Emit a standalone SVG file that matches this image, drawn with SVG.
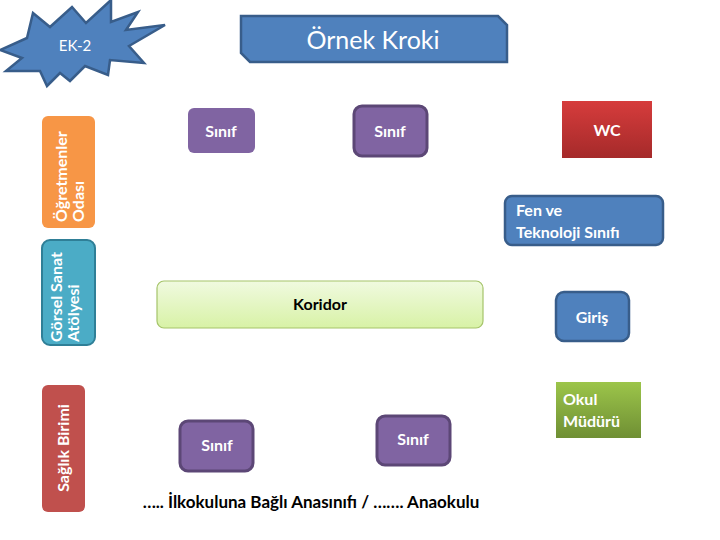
<svg xmlns="http://www.w3.org/2000/svg" width="720" height="540" viewBox="0 0 720 540">
<defs>
<linearGradient id="gRed" x1="0" y1="0" x2="0" y2="1"><stop offset="0" stop-color="#d63c3c"/><stop offset="1" stop-color="#a52a2a"/></linearGradient>
<linearGradient id="gGreen" x1="0" y1="0" x2="0" y2="1"><stop offset="0" stop-color="#9cc54a"/><stop offset="1" stop-color="#6f8f34"/></linearGradient>
<linearGradient id="gLight" x1="0" y1="0" x2="0" y2="1"><stop offset="0" stop-color="#f0fae0"/><stop offset="1" stop-color="#d8f2a6"/></linearGradient>
<style>
.t{font-family:Lato,"Open Sans","Liberation Sans",sans-serif;}
.w{fill:#ffffff;font-weight:bold;font-size:16px;}
.blue{fill:#4f81bd;stroke:#385d8a;stroke-width:2.5;}
.purple{fill:#8064a2;}
.purpleS{fill:#8064a2;stroke:#5c4776;stroke-width:3;}
</style>
</defs>
<rect width="720" height="540" fill="#ffffff"/>
<g id="connectors"></g>
<g id="ek2">
<polygon class="blue" stroke-width="2" points="0,50 27,38 33,13 50,27 72,7 86,23 111,0 111,22 138,12 126,30 165,25 129,46 144,63 110,60 108,75 85,66 70,81 60,73 47,86 40,71 6,71 22,58"/>
<text class="t" x="75" y="51" font-size="15" fill="#ffffff" text-anchor="middle">EK-2</text>
</g>
<g id="baslik">
<polygon class="blue" points="241,16 498,16 507,25 507,62 250,62 241,53"/>
<text class="t" x="373" y="49" font-size="25" fill="#ffffff" text-anchor="middle">Örnek Kroki</text>
</g>
<g id="ogretmenler">
<rect x="42" y="116" width="53" height="112" rx="6" fill="#f79646"/>
<text class="t w" font-size="15" transform="translate(67,222) rotate(-90)">Öğretmenler</text>
<text class="t w" font-size="15" transform="translate(84,222) rotate(-90)">Odası</text>
</g>
<g id="gorsel">
<rect x="42" y="240" width="53" height="105" rx="8" fill="#4bacc6" stroke="#2f7f97" stroke-width="2"/>
<text class="t w" font-size="15" transform="translate(62,342) rotate(-90)">Görsel Sanat</text>
<text class="t w" font-size="15" transform="translate(79,342) rotate(-90)">Atölyesi</text>
</g>
<g id="saglik">
<rect x="42" y="385" width="43" height="127" rx="6" fill="#c0504d"/>
<text class="t w" font-size="15" text-anchor="middle" transform="translate(69,448) rotate(-90)">Sağlık Birimi</text>
</g>
<g id="sinif1">
<rect class="purple" x="188" y="108" width="67" height="45" rx="6"/>
<text class="t w" x="221" y="137" text-anchor="middle">Sınıf</text>
</g>
<g id="sinif2">
<rect class="purpleS" x="354" y="106" width="73" height="50" rx="8"/>
<text class="t w" x="390" y="137" text-anchor="middle">Sınıf</text>
</g>
<g id="wc">
<rect x="562" y="101" width="90" height="57" fill="url(#gRed)"/>
<text class="t w" x="607" y="136" text-anchor="middle">WC</text>
</g>
<g id="fen">
<rect class="blue" x="505" y="196" width="158" height="49" rx="7"/>
<text class="t w" x="516" y="216">Fen ve</text>
<text class="t w" x="516" y="238">Teknoloji Sınıfı</text>
</g>
<g id="koridor">
<rect x="157" y="281" width="326" height="47" rx="7" fill="url(#gLight)" stroke="#a5c46a" stroke-width="1.2"/>
<text class="t" x="320" y="310" font-size="16" font-weight="bold" fill="#000000" text-anchor="middle">Koridor</text>
</g>
<g id="giris">
<rect class="blue" x="556" y="292" width="73" height="49" rx="8"/>
<text class="t w" x="592" y="323" text-anchor="middle">Giriş</text>
</g>
<g id="mudur">
<rect x="556" y="382" width="85" height="56" fill="url(#gGreen)"/>
<text class="t w" x="563" y="405">Okul</text>
<text class="t w" x="563" y="427">Müdürü</text>
</g>
<g id="sinif3">
<rect class="purpleS" x="180" y="421" width="73" height="50" rx="8"/>
<text class="t w" x="217" y="451" text-anchor="middle">Sınıf</text>
</g>
<g id="sinif4">
<rect class="purpleS" x="377" y="416" width="73" height="49" rx="8"/>
<text class="t w" x="413" y="445" text-anchor="middle">Sınıf</text>
</g>
<g id="altyazi">
<text class="t" x="311" y="508" font-size="17" font-weight="bold" fill="#000000" text-anchor="middle">….. İlkokuluna Bağlı Anasınıfı / ……. Anaokulu</text>
</g>
</svg>
